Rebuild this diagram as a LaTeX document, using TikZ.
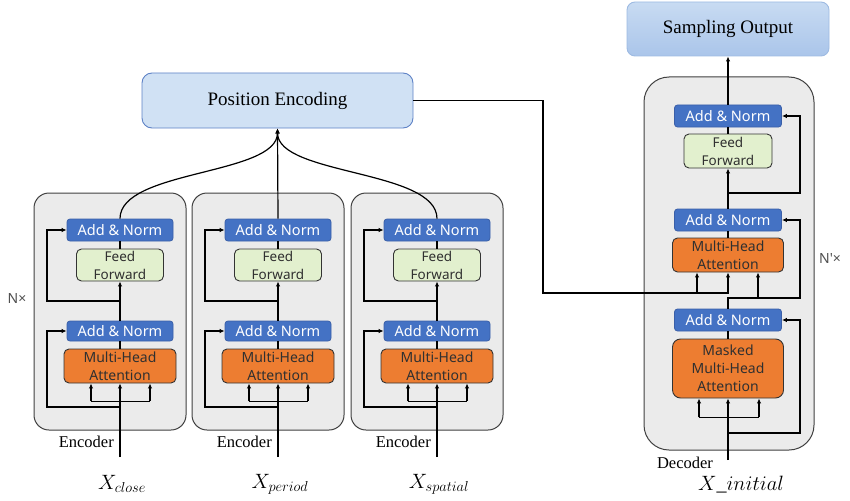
\documentclass[tikz,border=0pt]{standalone}
\usepackage{fontspec}
\setmainfont{Liberation Serif}
\newfontfamily\boxfont{Noto Sans}
\usetikzlibrary{arrows.meta,calc}

\definecolor{anfill}{HTML}{4472C4}
\definecolor{anline}{HTML}{3A5FA8}
\definecolor{fffill}{HTML}{E2F0CE}
\definecolor{mhafill}{HTML}{ED7D31}
\definecolor{darkline}{HTML}{333333}
\definecolor{boxfill}{HTML}{EBEBEB}
\definecolor{boxline}{HTML}{404040}
\definecolor{pefill}{HTML}{D0E1F4}
\definecolor{peline}{HTML}{5E82C6}
\definecolor{sotop}{HTML}{C8DBF2}
\definecolor{sobot}{HTML}{AAC5EA}
\definecolor{soline}{HTML}{9DBAE2}
\definecolor{txtdark}{HTML}{303030}
\definecolor{nlabel}{HTML}{505050}

\begin{document}
\begin{tikzpicture}[x=1pt,y=-1pt,
  an/.style={draw=anline, fill=anfill, rounded corners=3pt, minimum width=106pt,
    minimum height=22pt, inner sep=0pt, text=white, line width=0.8pt,
    font=\boxfont\fontsize{14.5}{16}\selectfont},
  ffbox/.style={draw=darkline, fill=fffill, rounded corners=5pt, minimum width=87pt,
    minimum height=32pt, inner sep=0pt, align=center, text=txtdark, line width=0.9pt,
    font=\boxfont\fontsize{13.5}{18}\selectfont},
  mhabox/.style={draw=darkline, fill=mhafill, rounded corners=5pt, minimum width=112pt,
    minimum height=34pt, inner sep=0pt, align=center, text=txtdark, line width=0.9pt,
    font=\boxfont\fontsize{14}{18}\selectfont},
  encbox/.style={draw=boxline, fill=boxfill, rounded corners=15pt, minimum width=152pt,
    minimum height=237pt, line width=1pt, inner sep=0pt},
  decbox/.style={draw=boxline, fill=boxfill, rounded corners=25pt, minimum width=170pt,
    minimum height=373pt, line width=1pt, inner sep=0pt},
  serif/.style={font=\fontsize{16.5}{18}\selectfont, inner sep=0pt},
  xlab/.style={font=\fontsize{20}{22}\selectfont, inner sep=0pt},
  nlab/.style={font=\boxfont\fontsize{14}{16}\selectfont, text=nlabel, inner sep=0pt},
  ln/.style={line width=1.2pt},
  arr/.style={line width=1.2pt, -{Latex[length=5pt,width=4.5pt]}},
]
\useasboundingbox (0,0) rectangle (850,500);

% Position encoding block
\node[draw=peline, fill=pefill, rounded corners=10pt, minimum width=271pt,
  minimum height=55pt, line width=0.9pt, font=\fontsize{19}{22}\selectfont]
  (pe) at (277.5,100.5) {Position Encoding};

% Three encoder stacks
\foreach \i/\cx/\lab in {1/120/close, 2/278/period, 3/437/spatial}{
  \node[encbox] (enc\i) at (\cx-10,311.5) {};
  \node[an] (ana\i) at (\cx,230) {Add \& Norm};
  \node[ffbox] (ff\i) at (\cx,265) {Feed\\Forward};
  \node[an, minimum height=20pt] (anb\i) at (\cx,331) {Add \& Norm};
  \node[mhabox] (mha\i) at (\cx,366) {Multi-Head\\Attention};
  \coordinate (in\i) at (\cx,457);
  \node[serif, anchor=east] (encl\i) at (\cx-6,442) {Encoder};
  \node[xlab] (x\i) at (\cx+2,484) {$X_{\lab}$};

  \draw[arr] (in\i) -- (mha\i.south);
  \draw[ln] ([xshift=-29pt,yshift=-18pt]mha\i.south) -- ([xshift=30pt,yshift=-18pt]mha\i.south);
  \draw[arr] ([xshift=-29pt,yshift=-18pt]mha\i.south) -- ([xshift=-29pt]mha\i.south);
  \draw[arr] ([xshift=30pt,yshift=-18pt]mha\i.south) -- ([xshift=30pt]mha\i.south);
  \draw[arr] (\cx,407) -| (\cx-73,331) -- (anb\i.west);
  \draw[ln] (mha\i.north) -- (anb\i.south);
  \draw[arr] (anb\i.north) -- (ff\i.south);
  \draw[arr] (\cx,301) -| (\cx-73,230) -- (ana\i.west);
  \draw[ln] (ff\i.north) -- (ana\i.south);
}

% Encoder outputs merge into the position encoding
\draw[arr] (ana1.north) .. controls +(0,-49) and +(0,47) .. (pe.south);
\draw[arr] (ana3.north) .. controls +(0,-49) and +(0,47) .. (pe.south);
\draw[arr] (ana2.north) -- (pe.south);

\node[nlab] (nenc) at (17,298) {N×};

% Decoder stack
\node[decbox] (dec) at (729,263.5) {};
\node[draw=soline, top color=sotop, bottom color=sobot, rounded corners=8pt,
  minimum width=202pt, minimum height=54pt, line width=0.9pt,
  font=\fontsize{19}{22}\selectfont] (so) at (728,29) {Sampling Output};
\node[an, minimum width=107pt] (dan3) at (728,116) {Add \& Norm};
\node[ffbox, minimum width=88pt, minimum height=34pt] (dff) at (728,151) {Feed\\Forward};
\node[an, minimum width=107pt] (dan2) at (728,220) {Add \& Norm};
\node[mhabox, minimum width=111pt] (dmha) at (728,255) {Multi-Head\\Attention};
\node[an, minimum width=107pt] (dan1) at (728,320) {Add \& Norm};
\node[mhabox, minimum width=111pt, minimum height=59pt, rounded corners=8pt]
  (dmmha) at (728,368.5) {Masked\\Multi-Head\\Attention};
\coordinate (din) at (728,460);
\node[serif] (decl) at (685,463) {Decoder};
\node[xlab] (xin) at (741,485) {$X\_initial$};
\node[nlab] (ndec) at (830,258) {N'×};

\draw[arr] (din) -- (dmmha.south);
\draw[ln] ([xshift=-29pt,yshift=-19pt]dmmha.south) -- ([xshift=31pt,yshift=-19pt]dmmha.south);
\draw[arr] ([xshift=-29pt,yshift=-19pt]dmmha.south) -- ([xshift=-29pt]dmmha.south);
\draw[arr] ([xshift=31pt,yshift=-19pt]dmmha.south) -- ([xshift=31pt]dmmha.south);
\draw[arr] (728,433) -| (800,320) -- (dan1.east);
\draw[ln] (dmmha.north) -- (dan1.south);
\draw[arr] (dan1.north) |- (800,298) |- (dan2.east);
\draw[arr] ([xshift=30pt,yshift=-26pt]dmha.south) -- ([xshift=30pt]dmha.south);

% Encoder memory into the decoder attention
\draw[arr] (pe.east) -| (543,293) -| (dmha.south);
\draw[arr] ([xshift=-31pt,yshift=-21pt]dmha.south) -- ([xshift=-31pt]dmha.south);

\draw[ln] (dmha.north) -- (dan2.south);
\draw[arr] (dan2.north) -- (dff.south);
\draw[arr] (728,193) -| (800,116) -- (dan3.east);
\draw[ln] (dff.north) -- (dan3.south);
\draw[arr] (dan3.north) -- (so.south);
\end{tikzpicture}
\end{document}
